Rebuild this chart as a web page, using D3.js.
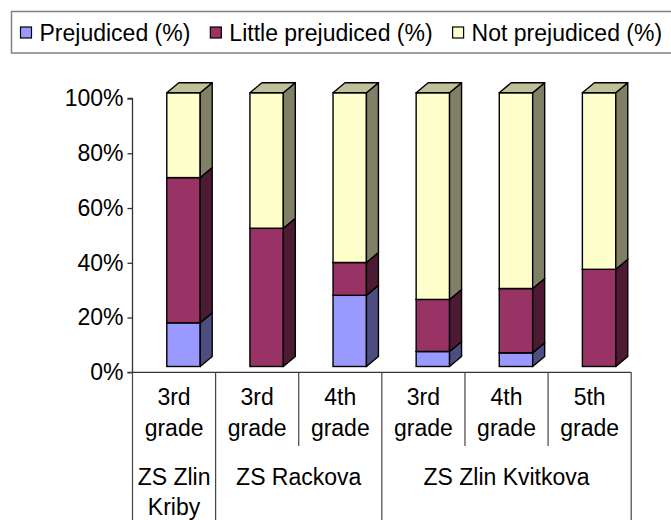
<!DOCTYPE html>
<html>
<head>
<meta charset="utf-8">
<script src="https://cdn.jsdelivr.net/npm/d3@7"></script>
<style>
  body { margin: 0; background: #fff; }
  text { font-family: "Liberation Sans", Arial, sans-serif; font-size: 23px; fill: #000; }
</style>
</head>
<body>
<svg id="chart" width="671" height="520"></svg>
<script>
// grades (one bar each) and the school each belongs to
var grades = ["3rd grade", "3rd grade", "4th grade", "3rd grade", "4th grade", "5th grade"];
var schools = [
  {name: ["ZS Zlin", "Kriby"], from: 0, to: 1},
  {name: ["ZS Rackova"], from: 1, to: 3},
  {name: ["ZS Zlin Kvitkova"], from: 3, to: 6}
];

// series values, percent
var prejudiced = [16, 0, 26, 5.5, 5, 0];
var littlePrejudiced = [53, 50.5, 12, 19, 23.5, 35.5];
var notPrejudiced = [31, 49.5, 62, 75.5, 71.5, 64.5];

var seriesNames = ["Prejudiced (%)", "Little prejudiced (%)", "Not prejudiced (%)"];
var yTicks = [0, 20, 40, 60, 80, 100];

// colours: front, side, top
var colors = [
  {front: "#9999FF", side: "#4D4D80", top: "#7373BF"},
  {front: "#993366", side: "#4D1A33", top: "#732650"},
  {front: "#FFFFCC", side: "#808066", top: "#BFBF99"}
];

var svg = d3.select("#chart");

var x0 = 132.5, x1 = 631.2;
var x = d3.scaleBand().domain(d3.range(grades.length)).range([x0, x1]).padding(0);
var y = d3.scaleLinear().domain([0, 100]).range([372.3, 98.5]);

var depth = {dx: 12, dy: -10};
var lift = -5.8;          // front faces sit a bit above the axis
var barOff = 34.3, barW = 33.4;

// stack
var rows = grades.map(function (g, i) {
  return {i: i, s0: prejudiced[i], s1: littlePrejudiced[i], s2: notPrejudiced[i]};
});
var stacked = d3.stack().keys(["s0", "s1", "s2"])(rows);

// y axis
var yAxis = d3.axisLeft(y).tickValues(yTicks).tickSize(5).tickPadding(4)
  .tickFormat(function (d) { return d + "%"; });
var gY = svg.append("g").attr("transform", "translate(" + x0 + ",0)").call(yAxis);
gY.select(".domain").attr("stroke", "#333").attr("stroke-width", 1.3).attr("d", "M-5," + y(100) + "H0V" + y(0) + "H-5");
gY.selectAll(".tick line").attr("stroke", "#333").attr("stroke-width", 1.3);
gY.selectAll(".tick text").style("font-size", "23px").attr("fill", "#000")
  .style("font-family", "Liberation Sans, Arial, sans-serif");

// x axis line + category dividers
svg.append("line").attr("x1", x0).attr("x2", x1).attr("y1", y(0)).attr("y2", y(0))
  .attr("stroke", "#333").attr("stroke-width", 1.3);

var bounds = d3.range(grades.length + 1);
var schoolEdges = [0].concat(schools.map(function (s) { return s.to; }));
svg.selectAll(".divider").data(bounds).enter().append("line")
  .attr("class", "divider")
  .attr("x1", function (b) { return x0 + b * x.bandwidth(); })
  .attr("x2", function (b) { return x0 + b * x.bandwidth(); })
  .attr("y1", y(0))
  .attr("y2", function (b) { return schoolEdges.indexOf(b) >= 0 ? 520 : 446; })
  .attr("stroke", "#444").attr("stroke-width", 1.2);

// grade labels
grades.forEach(function (g, i) {
  var cx = x(i) + x.bandwidth() / 2;
  var t = svg.append("text").attr("text-anchor", "middle");
  g.split(" ").forEach(function (p, k) {
    t.append("tspan").attr("x", cx).attr("y", 405 + k * 31).text(p);
  });
});

// school labels
schools.forEach(function (s) {
  var cx = x0 + (s.from + s.to) / 2 * x.bandwidth();
  var t = svg.append("text").attr("text-anchor", "middle");
  s.name.forEach(function (p, k) {
    t.append("tspan").attr("x", cx).attr("y", 485 + k * 30).text(p);
  });
});

// bars
var bars = svg.append("g");
rows.forEach(function (r, i) {
  var L = x(i) + barOff, R = L + barW;
  stacked.forEach(function (layer, k) {
    var d = layer[i];
    if (d[1] - d[0] <= 0) return;
    var yb = y(d[0]) + lift, yt = y(d[1]) + lift;
    var c = colors[k];
    bars.append("rect").attr("x", L).attr("y", yt).attr("width", barW).attr("height", yb - yt)
      .attr("fill", c.front).attr("stroke", "#000").attr("stroke-width", 1.4);
    bars.append("path")
      .attr("d", "M" + R + "," + yb + "L" + (R + depth.dx) + "," + (yb + depth.dy) +
        "L" + (R + depth.dx) + "," + (yt + depth.dy) + "L" + R + "," + yt + "Z")
      .attr("fill", c.side).attr("stroke", "#000").attr("stroke-width", 1.4).attr("stroke-linejoin", "round");
    bars.append("path")
      .attr("d", "M" + L + "," + yt + "L" + R + "," + yt + "L" + (R + depth.dx) + "," + (yt + depth.dy) +
        "L" + (L + depth.dx) + "," + (yt + depth.dy) + "Z")
      .attr("fill", c.top).attr("stroke", "#000").attr("stroke-width", 1.4).attr("stroke-linejoin", "round");
  });
});

// legend
var legend = svg.append("g");
legend.append("rect").attr("x", 11.5).attr("y", 11.5).attr("width", 700).attr("height", 41.5)
  .attr("fill", "#fff").attr("stroke", "#808080").attr("stroke-width", 1.5);
var lx = 20.5;
seriesNames.forEach(function (name, k) {
  legend.append("rect").attr("x", lx).attr("y", 27).attr("width", 11).attr("height", 11)
    .attr("fill", colors[k].front).attr("stroke", "#000").attr("stroke-width", 1.2);
  var t = legend.append("text").attr("x", lx + 19).attr("y", 32.5).attr("dy", "0.35em").text(name);
  lx += 19 + t.node().getComputedTextLength() + 20;
});
</script>
</body>
</html>
